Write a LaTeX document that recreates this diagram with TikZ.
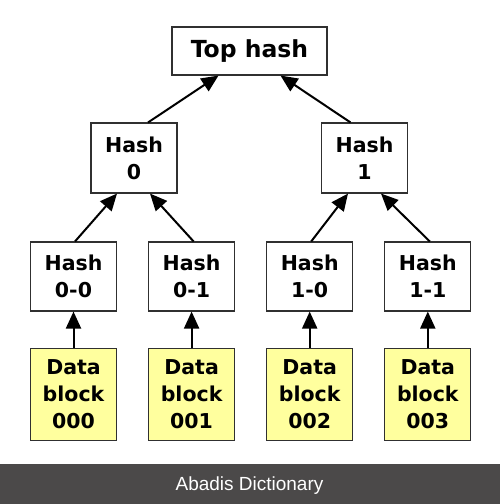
\documentclass[tikz,border=0pt]{standalone}
\usepackage{fontspec}
\setmainfont{DejaVu Sans}
\newfontfamily\barfont{Liberation Sans}
\usepackage{tikz}
\usetikzlibrary{arrows.meta,positioning}
\definecolor{datafill}{HTML}{FFFF9E}
\definecolor{edge}{HTML}{303030}
\definecolor{barbg}{HTML}{4B4949}

\begin{document}
\begin{tikzpicture}[
  x=1pt,y=-1pt,
  node distance=31pt,
  hashbox/.style={draw=edge,line width=1.1pt,fill=white,minimum width=86pt,minimum height=69pt,inner sep=0pt,align=center,font=\bfseries\fontsize{20.5}{27}\selectfont},
  topbox/.style={hashbox,minimum width=155pt,minimum height=48pt,font=\bfseries\fontsize{23.5}{27}\selectfont},
  datablock/.style={hashbox,fill=datafill,minimum height=92pt},
  arrow/.style={-{Triangle[length=17pt,width=15pt]},line width=2pt}
]
\fill[white] (0,0) rectangle (500,504);
\node[topbox] (top) at (249.5,51) {Top hash};
\node[hashbox,minimum height=70pt] (h0) at (134,158) {Hash\\0};
\node[hashbox,minimum height=70pt] (h1) at (364.5,158) {Hash\\1};
\node[hashbox] (h00) at (73.5,276.5) {Hash\\0-0};
\node[hashbox,right=of h00] (h01) {Hash\\0-1};
\node[hashbox,right=of h01] (h10) {Hash\\1-0};
\node[hashbox,right=of h10] (h11) {Hash\\1-1};
\node[datablock,below=36pt of h00] (d000) {Data\\block\\000};
\node[datablock,below=36pt of h01] (d001) {Data\\block\\001};
\node[datablock,below=36pt of h10] (d002) {Data\\block\\002};
\node[datablock,below=36pt of h11] (d003) {Data\\block\\003};
\draw[arrow] (d000) -- (h00);
\draw[arrow] (d001) -- (h01);
\draw[arrow] (d002) -- (h10);
\draw[arrow] (d003) -- (h11);
\draw[arrow] ([xshift=1.5pt]h00.north) -- ([xshift=-17pt]h0.south);
\draw[arrow] ([xshift=2pt]h01.north) -- ([xshift=16pt]h0.south);
\draw[arrow] ([xshift=1.5pt]h10.north) -- ([xshift=-16.5pt]h1.south);
\draw[arrow] ([xshift=2pt]h11.north) -- ([xshift=16.5pt]h1.south);
\draw[arrow] ([xshift=14pt]h0.north) -- ([xshift=-31pt]top.south);
\draw[arrow] ([xshift=-14pt]h1.north) -- ([xshift=31pt]top.south);
% watermark bar
\fill[barbg] (0,464) rectangle (500,504);
\node[anchor=base,text=white,font=\barfont\fontsize{19}{20}\selectfont] (mark) at (249.5,490) {Abadis Dictionary};
\end{tikzpicture}
\end{document}
